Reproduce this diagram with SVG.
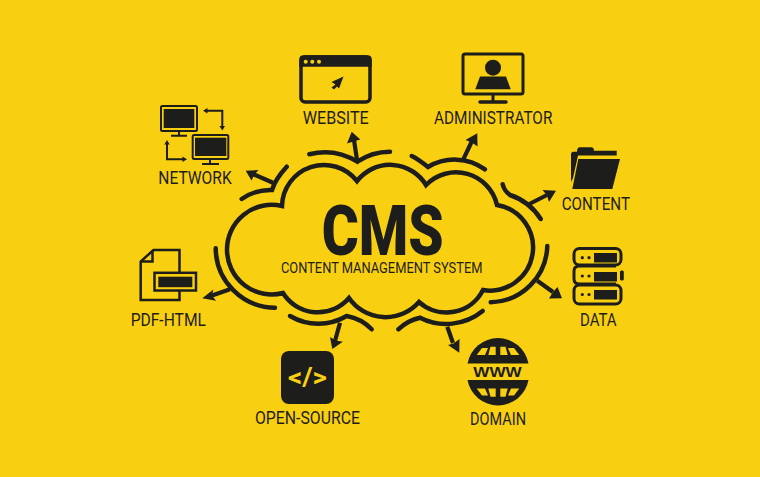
<svg xmlns="http://www.w3.org/2000/svg" width="760" height="477" viewBox="0 0 760 477">
<style>
.t{font-family:Roboto,"Liberation Sans",Arial,sans-serif;font-size:18.5px;font-weight:400;fill:#1d1d1b;text-anchor:middle}
.l{fill:none;stroke:#1d1d1b;stroke-width:4.5;stroke-linecap:round;stroke-linejoin:miter}
.a{fill:none;stroke:#1d1d1b;stroke-width:4.2}
.k{fill:#1d1d1b}
.y{fill:#f9d011}
.s{fill:none;stroke:#1d1d1b;stroke-width:3;stroke-linejoin:round}
.n{fill:none;stroke:#1d1d1b;stroke-width:2}
</style>
<rect width="760" height="477" fill="#f9d011"/>
<g id="cloud">
<path class="l" d="M282 206A42 42 0 0 1 357 181A42 42 0 0 1 426 185A42 42 0 0 1 497 205A43 43 0 0 1 483 290A41 41 0 0 1 419 302A44.500 44.500 0 0 1 349 298A41 41 0 0 1 283 293A44.800 44.800 0 1 1 282 206Z"/>
<text x="382.700" y="255" font-family="Roboto,'DejaVu Sans',sans-serif" font-size="70" font-weight="900" fill="#1d1d1b" text-anchor="middle" textLength="122" lengthAdjust="spacingAndGlyphs">CMS</text>
<text x="381.700" y="273" class="t" style="font-size:15.500px" textLength="201.500" lengthAdjust="spacingAndGlyphs">CONTENT MANAGEMENT SYSTEM</text>
</g>
<g id="connectors">
<path class="l" d="M241.700 199A50 50 0 0 1 272 190C275 180 280 174 286.700 166.700"/>
<path class="l" d="M309.300 154.300A62 62 0 0 1 357.300 161.700A58 58 0 0 1 390 151.700"/>
<path class="l" d="M411.700 156C418 159 423 163 428 167A52 52 0 0 1 485 169.300"/>
<path class="l" d="M502.700 184.300C504 190 506 192 510 195A58 58 0 0 1 540.700 219"/>
<path class="l" d="M547.300 246A58 58 0 0 1 490.700 302.300"/>
<path class="l" d="M398.300 329.300A46 46 0 0 1 420 317.700A58 58 0 0 0 482.700 311"/>
<path class="l" d="M290 316A56 56 0 0 0 346.700 316A46 46 0 0 1 371.700 329.300"/>
<path class="l" d="M215.700 248.300A60 60 0 0 0 275 307.700"/>
<g class="a">
<path d="M357 160L354 140"/><path d="M273 182.700L254 174.500"/><path d="M463.300 159.300L472 141"/><path d="M529.300 204L547 195"/><path d="M537.300 280.700L553 292"/><path d="M447.300 326.700L453 343"/><path d="M340 322.700L335 341"/><path d="M230 289.300L212 295.500"/>
</g>
<polygon class="k" points="351.700,131.700 347,143.500 353.500,141.500 360.300,139.500"/>
<polygon class="k" points="245.700,170.700 251.500,180.500 254.500,174.500 258.500,170"/>
<polygon class="k" points="477.300,133.300 465.500,140 472,142.500 477.500,146.500"/>
<polygon class="k" points="556,190.700 542.500,190 547,195.500 549,202"/>
<polygon class="k" points="562,298.300 549,298.500 553,292 557.500,287"/>
<polygon class="k" points="459.300,352.700 448,345 453.500,343.500 459.500,339"/>
<polygon class="k" points="332.300,349 330,337 335.500,340.500 342.800,341.800"/>
<polygon class="k" points="202.300,298.300 213.300,289.500 212,295.500 216,300.700"/>
</g>
<g id="website">
<rect x="301" y="57" width="69" height="45" rx="4" fill="none" stroke="#1d1d1b" stroke-width="3.500"/>
<path class="k" d="M303.500 55.300H367.500Q371.700 55.300 371.700 59.500V66.700H299.300V59.500Q299.300 55.300 303.500 55.300Z"/>
<circle cx="305.700" cy="61.700" r="2" class="y"/><circle cx="312.300" cy="61.700" r="2" class="y"/><circle cx="319" cy="61.700" r="2" class="y"/>
<polygon class="k" points="343.500,76.500 331.500,82 335.500,84.500 331.500,87.500 334,89.500 337,86.500 339,88.500"/>
<text x="335.700" y="124" class="t" textLength="66" lengthAdjust="spacingAndGlyphs">WEBSITE</text>
</g>
<g id="administrator">
<rect x="463" y="54" width="60" height="40" rx="2" class="s"/>
<path class="s" d="M493 95V102"/><path d="M480 102H506" stroke="#1d1d1b" stroke-width="3.500" stroke-linecap="round"/>
<circle cx="493" cy="67.700" r="8" class="k"/>
<polygon class="k" points="475.300,89.300 510.700,89.300 506,76.500 480,76.500"/>
<text x="493.200" y="124" class="t" textLength="118.300" lengthAdjust="spacingAndGlyphs">ADMINISTRATOR</text>
</g>
<g id="network">
<rect x="161" y="106" width="36" height="25" rx="1.500" class="n"/><rect x="163.700" y="109" width="30.600" height="19" class="k"/>
<path class="n" d="M179 132V135M171 135.700H187"/>
<rect x="192.700" y="135" width="35.600" height="24" rx="1.500" class="n"/><rect x="195" y="137.700" width="31.300" height="18.300" class="k"/>
<path class="n" d="M210 160V163M202 164H219"/>
<path class="n" d="M206 110.700H222.300V127"/><polygon class="k" points="203,110.700 207.500,108 207.500,113.500"/><polygon class="k" points="222.300,130.500 219.500,126 225,126"/>
<path class="n" d="M167 143V159.300H184"/><polygon class="k" points="167,140 164.300,144.500 169.700,144.500"/><polygon class="k" points="187,159.300 182.500,156.500 182.500,162"/>
<text x="195" y="184" class="t" textLength="73.400" lengthAdjust="spacingAndGlyphs">NETWORK</text>
</g>
<g id="content">
<path class="k" d="M571 182V154Q571 152 573 151.700L577 151.700Q577 147.300 580 147.300H591Q594 147.300 594 150.700H616.700V155.500H578L573 178Z"/>
<polygon class="k" points="578.300,159 620,159 612.300,189 572.300,189"/>
<text x="595.800" y="210" class="t" textLength="68.300" lengthAdjust="spacingAndGlyphs">CONTENT</text>
</g>
<g id="data">
<rect x="574" y="248.500" width="47" height="16.500" rx="5.500" class="s"/>
<path class="s" d="M616 266H579.500Q574 266 574 271V279Q574 284 579.500 284H616"/>
<rect x="574" y="285" width="47" height="19" rx="5.500" class="s"/>
<rect x="620" y="270.500" width="3.800" height="10" rx="1.500" class="k"/>
<rect x="594" y="253" width="23" height="9.500" class="k"/><rect x="594" y="272" width="23" height="9.500" class="k"/><rect x="594" y="290" width="23" height="9.500" class="k"/>
<circle cx="582.300" cy="257.700" r="1.600" class="k"/><circle cx="589" cy="257.700" r="1.600" class="k"/>
<circle cx="582.300" cy="276" r="1.600" class="k"/><circle cx="589" cy="276" r="1.600" class="k"/>
<circle cx="582.300" cy="294.500" r="1.600" class="k"/><circle cx="589" cy="294.500" r="1.600" class="k"/>
<text x="598.300" y="325.500" class="t" textLength="36.700" lengthAdjust="spacingAndGlyphs">DATA</text>
</g>
<g id="domain">
<path class="k" d="M467.500 363.500A31 31 0 0 1 528.500 363.500Z"/>
<path class="k" d="M467.500 380A31 31 0 0 0 528.500 380Z"/>
<polygon class="y" points="476.700,355 485,355 488,348 482,348"/>
<polygon class="y" points="488.300,355 495.700,355 495.700,346.700 490.500,346.700"/>
<polygon class="y" points="500.300,355 507.700,355 505.500,346.700 500.300,346.700"/>
<polygon class="y" points="511,355 519.300,355 514,348 508,348"/>
<polygon class="y" points="476.700,388.400 485,388.400 488,395.400 482,395.400"/>
<polygon class="y" points="488.300,388.400 495.700,388.400 495.700,396.700 490.500,396.700"/>
<polygon class="y" points="500.300,388.400 507.700,388.400 505.500,396.700 500.300,396.700"/>
<polygon class="y" points="511,388.400 519.300,388.400 514,395.400 508,395.400"/>
<text x="497.500" y="376.800" font-family="'Liberation Sans',sans-serif" font-weight="700" font-size="14" fill="#1d1d1b" text-anchor="middle" textLength="48.500" lengthAdjust="spacingAndGlyphs">WWW</text>
<text x="498" y="424.800" class="t" textLength="56" lengthAdjust="spacingAndGlyphs">DOMAIN</text>
</g>
<g id="open-source">
<rect x="281" y="351" width="53" height="53" rx="8" class="k"/>
<text x="307.500" y="386" font-family="Roboto,'Liberation Sans',sans-serif" font-weight="700" font-size="25" fill="#f9d011" text-anchor="middle" textLength="39" lengthAdjust="spacingAndGlyphs">&lt;/&gt;</text>
<text x="307.500" y="424.300" class="t" textLength="105" lengthAdjust="spacingAndGlyphs">OPEN-SOURCE</text>
</g>
<g id="pdf-html">
<path d="M179.500 272V250H153.500L140.700 261.500V300H179.500V291" fill="none" stroke="#1d1d1b" stroke-width="2.500"/>
<path d="M152.500 250.500V261.500H141" fill="none" stroke="#1d1d1b" stroke-width="2.500"/>
<rect x="154.500" y="272.800" width="41.500" height="17.700" fill="none" stroke="#1d1d1b" stroke-width="2.500"/>
<rect x="158.300" y="276.700" width="34" height="10.500" class="k"/>
<text x="168.300" y="326" class="t" textLength="75.300" lengthAdjust="spacingAndGlyphs">PDF-HTML</text>
</g>
</svg>
